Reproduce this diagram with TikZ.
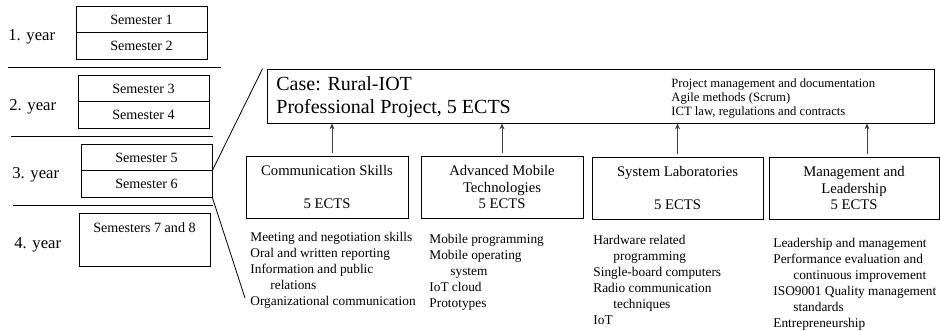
\documentclass[tikz,border=0pt]{standalone}
\usepackage{fontspec}
\setmainfont{Liberation Serif}
\usetikzlibrary{positioning,arrows.meta}

\begin{document}
\begin{tikzpicture}[x=0.75pt,y=-0.75pt,line width=0.6pt,
    sembox/.style={draw,minimum width=98.25pt,minimum height=19.9pt,inner sep=0pt,font=\fontsize{10.6}{12}\selectfont},
    yearlbl/.style={anchor=west,inner sep=0pt,font=\fontsize{12.5}{14}\selectfont},
    course/.style={draw,minimum height=46.5pt,inner sep=0pt,align=center,font=\fontsize{11}{12.4}\selectfont},
    topics/.style={anchor=north west,inner sep=0pt,align=left,font=\fontsize{10}{12}\selectfont},
    >={Stealth[length=4.5pt,width=3.75pt]}]
    \useasboundingbox (0,0) rectangle (940,331);

    % years and semesters
    \node[yearlbl] (y1) at (8,37) {1. year};
    \node[yearlbl] (y2) at (9,107) {2. year};
    \node[yearlbl] (y3) at (12,175) {3. year};
    \node[yearlbl] (y4) at (14,245) {4. year};
    \node[sembox] (s1) at (141.5,19.5) {Semester 1};
    \node[sembox] (s2) at (141.5,46) {Semester 2};
    \node[sembox] (s3) at (143.5,88.5) {Semester 3};
    \node[sembox] (s4) at (143.5,115) {Semester 4};
    \node[sembox] (s5) at (146.5,157.5) {Semester 5};
    \node[sembox] (s6) at (146.5,184) {Semester 6};
    \node[sembox,minimum height=39.75pt] (s78) at (144.5,239.5) {};
    \node[anchor=north,inner sep=0pt,font=\fontsize{10.6}{12}\selectfont] (s78lbl) at ([yshift=-7.5pt]s78.north) {Semesters 7 and 8};
    \draw (8,67) -- (221,67);
    \draw (11,136) -- (213,136);
    \draw (13,205) -- (213,205);

    % the professional project
    \node[draw,minimum width=500.25pt,minimum height=40.5pt] (case) at (600.5,96) {};
    \node[anchor=base west,inner sep=0pt,font=\fontsize{15}{17}\selectfont] (casename) at (276,91) {Case: Rural-IOT};
    \node[anchor=base west,inner sep=0pt,font=\fontsize{15}{17}\selectfont] (caseects) at (276,114) {Professional Project, 5 ECTS};
    \node[topics,font=\fontsize{9.5}{10.5}\selectfont] (casetopics) at (671,78) {Project management and documentation\\Agile methods (Scrum)\\ICT law, regulations and contracts};

    % zoom lines
    \coordinate (zoomlow) at (245,298);
    \draw (s6.north east) -- ([xshift=-3pt]case.north west);
    \draw (s6.south east) -- (zoomlow);

    % courses
    \node[course,minimum width=121.5pt] (comm) at (327,187) {Communication Skills\\~\\5 ECTS};
    \node[course,minimum width=121.5pt] (mobile) at (502,187) {Advanced Mobile\\Technologies\\5 ECTS};
    \node[course,minimum width=128.25pt] (syslab) at (677.5,188) {System Laboratories\\~\\5 ECTS};
    \node[course,minimum width=127.5pt] (mgmt) at (854,188) {Management and\\Leadership\\5 ECTS};
    \draw[->,black!75,shorten <=2.25pt] ([xshift=3.75pt]comm.north) -- ([xshift=3.75pt]comm.north |- case.south);
    \draw[->,black!75,shorten <=2.25pt] (mobile.north) -- (mobile.north |- case.south);
    \draw[->,black!75,shorten <=2.25pt] (syslab.north) -- (syslab.north |- case.south);
    \draw[->,black!75,shorten <=2.25pt] ([xshift=9.75pt]mgmt.north) -- ([xshift=9.75pt]mgmt.north |- case.south);

    \node[topics] (commtopics) at (250,232) {Meeting and negotiation skills\\Oral and written reporting\\Information and public\\\hspace*{15pt}relations\\Organizational communication};
    \node[topics] (mobiletopics) at (429,234) {Mobile programming\\Mobile operating\\\hspace*{15.75pt}system\\IoT cloud\\Prototypes};
    \node[topics] (syslabtopics) at (593,235) {Hardware related\\\hspace*{15pt}programming\\Single-board computers\\Radio communication\\\hspace*{15pt}techniques\\IoT};
    \node[topics] (mgmttopics) at (773,238) {Leadership and management\\Performance evaluation and\\\hspace*{15pt}continuous improvement\\ISO9001 Quality management\\\hspace*{15pt}standards\\Entrepreneurship};
\end{tikzpicture}
\end{document}
